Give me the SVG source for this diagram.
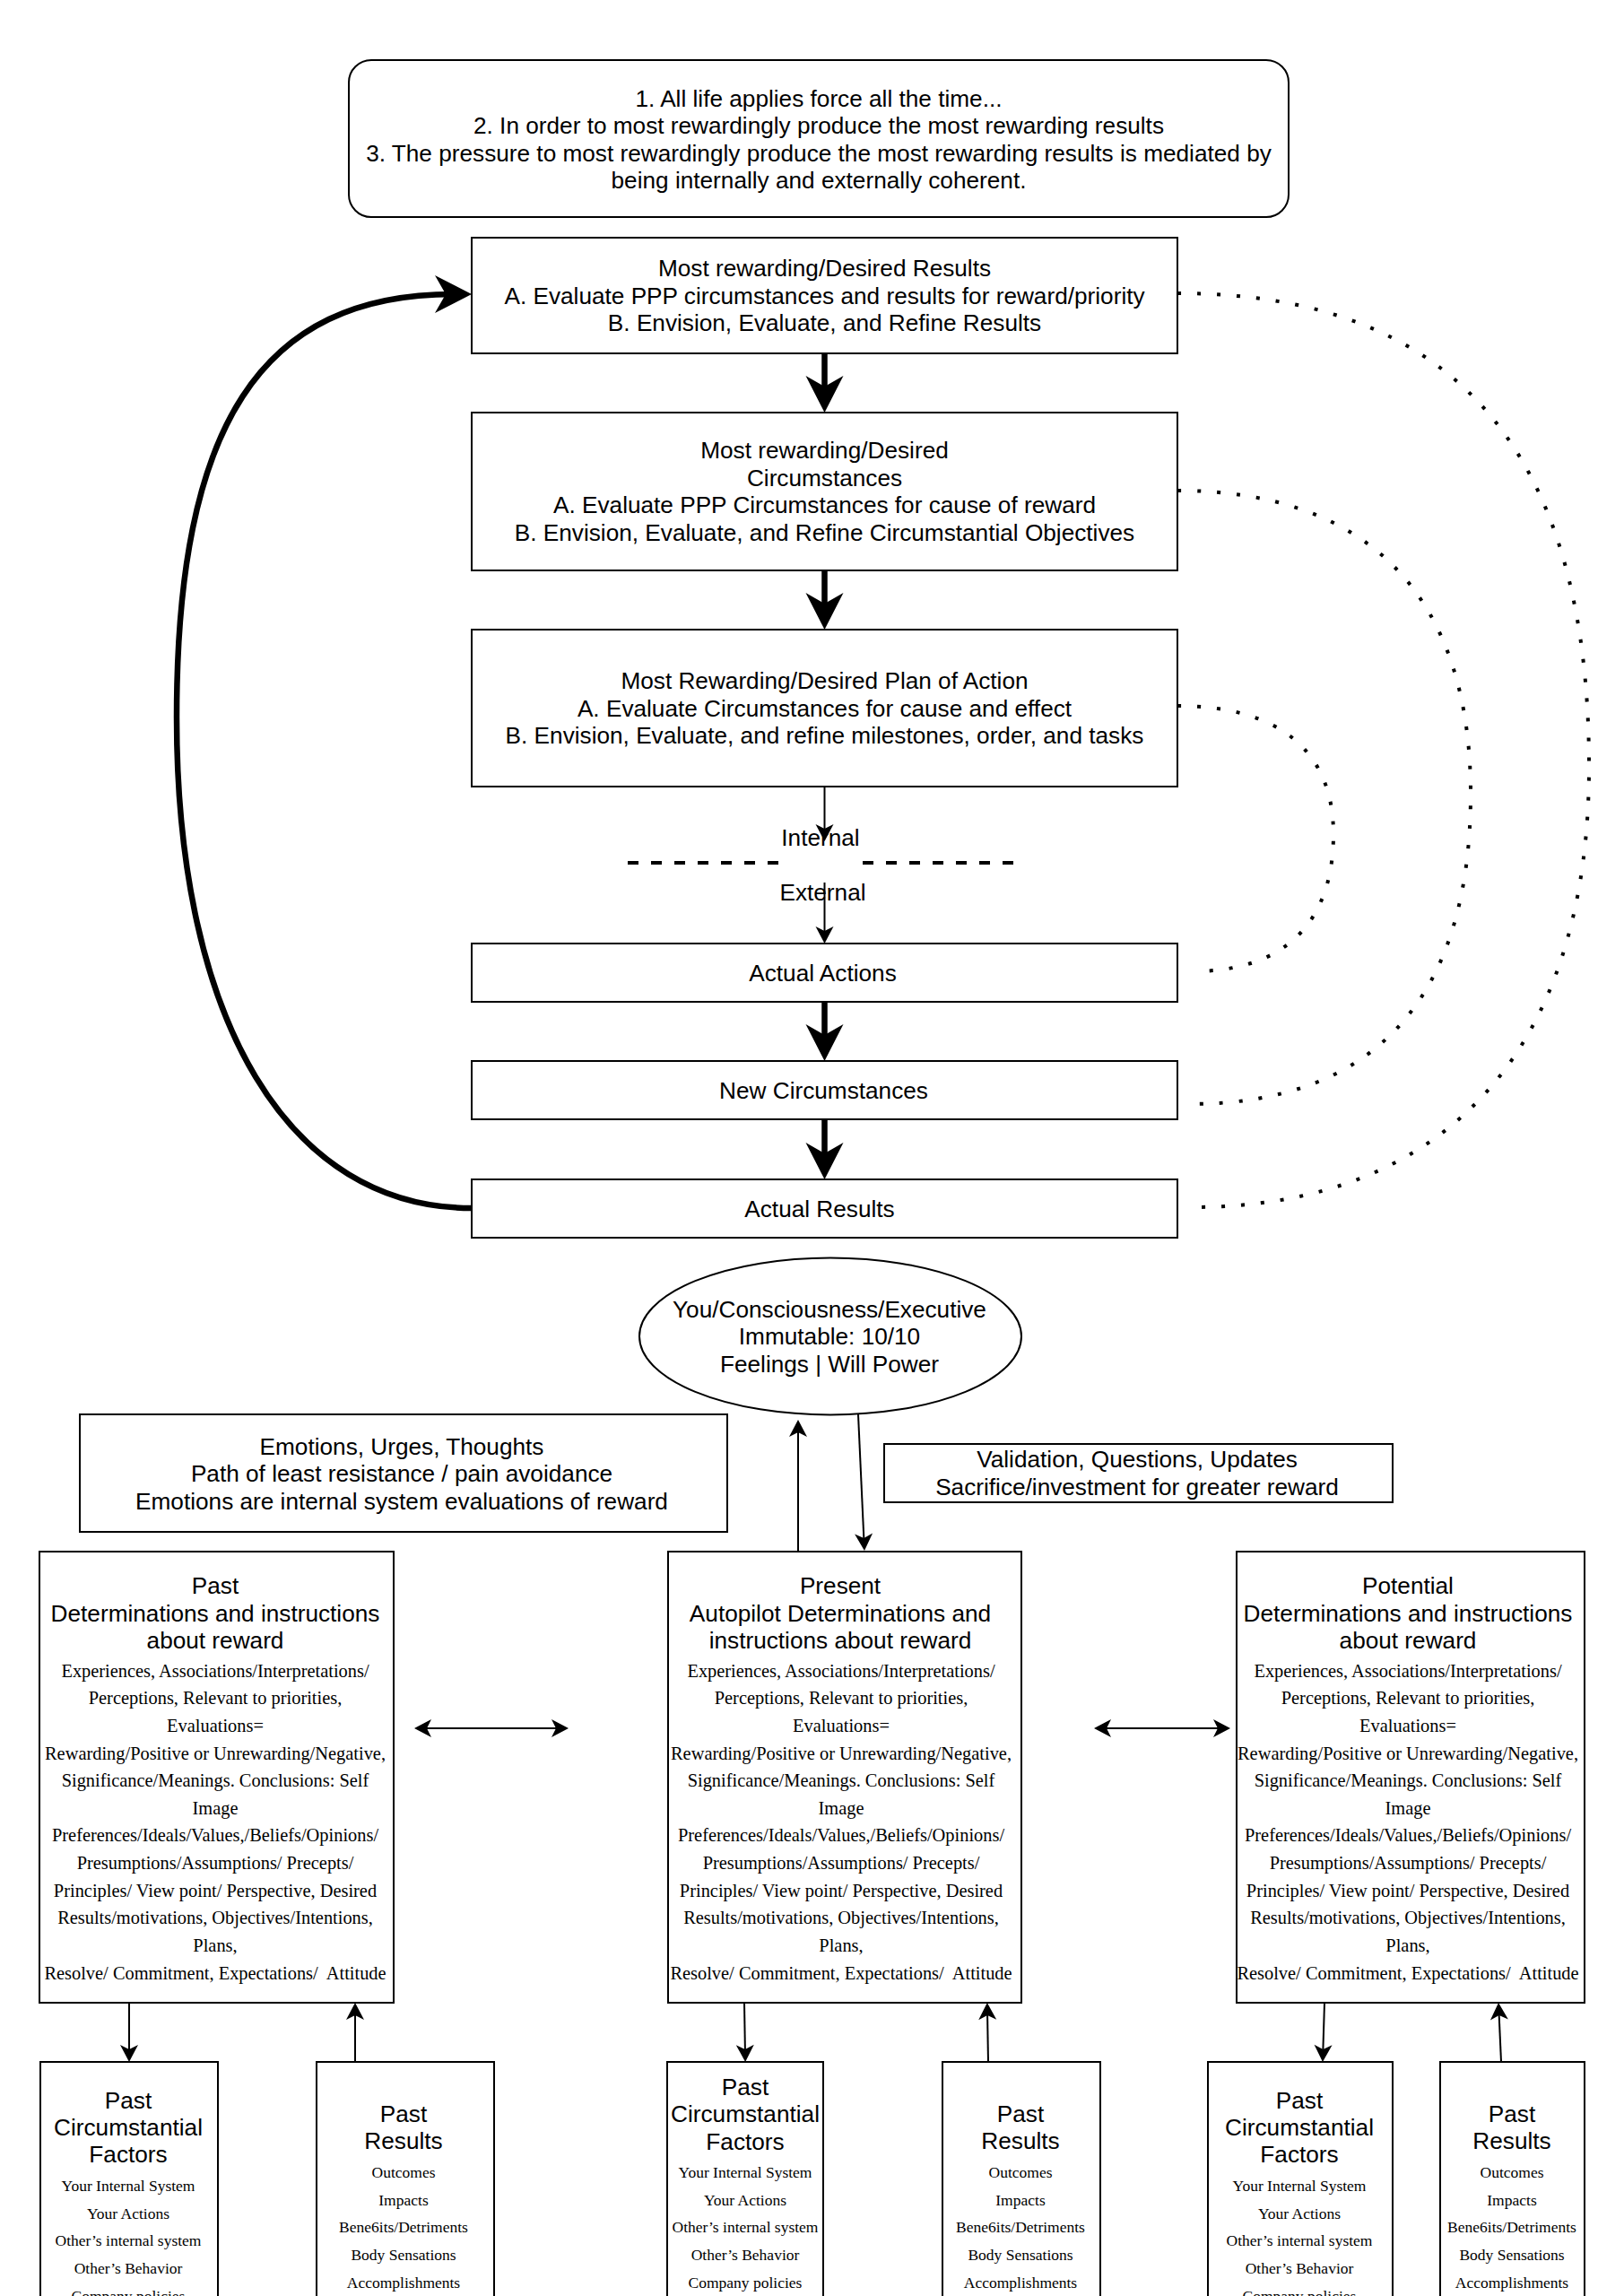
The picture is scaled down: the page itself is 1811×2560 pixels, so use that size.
<svg xmlns="http://www.w3.org/2000/svg" width="1811" height="2560" viewBox="0 0 1811 2560">
<style>
.box{fill:#fff;stroke:#000;stroke-width:2}
.t{font-family:"Liberation Sans",Arial,sans-serif;font-size:26.2px;text-anchor:middle;fill:#000}
.s{font-family:"Liberation Serif","Times New Roman",serif;font-size:20.4px;text-anchor:middle;fill:#000}
.s2{font-family:"Liberation Serif","Times New Roman",serif;font-size:17.5px;text-anchor:middle;fill:#000}
.thin{stroke:#000;stroke-width:2;fill:none}
.thick{stroke:#000;stroke-width:6.5;fill:none}
.dot{stroke:#000;stroke-width:4;fill:none;stroke-dasharray:4 18}
.dash{stroke:#000;stroke-width:4;fill:none;stroke-dasharray:12 14}
</style>
<defs>
<marker id="a" viewBox="-12 -11 21 22" markerWidth="21" markerHeight="22" refX="0" refY="0" orient="auto-start-reverse" markerUnits="userSpaceOnUse">
<path d="M8,0 L-11,-10 L-6,0 L-11,10 Z" fill="#000"/>
</marker>
<marker id="A" viewBox="-22 -22 43 44" markerWidth="43" markerHeight="44" refX="0" refY="0" orient="auto" markerUnits="userSpaceOnUse">
<path d="M20,0 L-21,-21 L-9,0 L-21,21 Z" fill="#000"/>
</marker>
</defs>
<rect width="1811" height="2560" fill="#fff"/>

<g id="connectors">
<path class="thick" d="M526,1347 C322,1347 197,1139 197,800 C197,475 290,328 506,328" marker-end="url(#A)"/>
<line class="thick" x1="919.5" y1="394" x2="919.5" y2="440" marker-end="url(#A)"/>
<line class="thick" x1="919.5" y1="636" x2="919.5" y2="682" marker-end="url(#A)"/>
<line class="thick" x1="919.5" y1="1117" x2="919.5" y2="1163" marker-end="url(#A)"/>
<line class="thick" x1="919.5" y1="1248" x2="919.5" y2="1295" marker-end="url(#A)"/>
<line class="thin" x1="919.5" y1="877" x2="919.5" y2="930" marker-end="url(#a)"/>
<line class="thin" x1="919.5" y1="984" x2="919.5" y2="1044" marker-end="url(#a)"/>
<line class="dash" x1="700" y1="962" x2="870" y2="962"/>
<line class="dash" x1="962" y1="962" x2="1133" y2="962"/>
<path class="dot" d="M1313,327 C1620,327 1772,501 1772,855 C1772,1169 1613,1346 1329,1346"/>
<path class="dot" d="M1313,547 C1526,547 1640,665 1640,885 C1640,1113 1533,1231 1326,1231"/>
<path class="dot" d="M1313,787 C1426,787 1487,837 1487,930 C1487,1029 1432,1083 1331,1083"/>
<line class="thin" x1="890" y1="1729" x2="890" y2="1591" marker-end="url(#a)"/>
<line class="thin" x1="957" y1="1577" x2="963.6" y2="1721" marker-end="url(#a)"/>
<line class="thin" x1="470" y1="1927" x2="626" y2="1927" marker-start="url(#a)" marker-end="url(#a)"/>
<line class="thin" x1="1228" y1="1927" x2="1364" y2="1927" marker-start="url(#a)" marker-end="url(#a)"/>
<line class="thin" x1="144" y1="2233" x2="144" y2="2291" marker-end="url(#a)"/>
<line class="thin" x1="396" y1="2317" x2="396" y2="2241" marker-end="url(#a)"/>
<line class="thin" x1="830" y1="2233" x2="831" y2="2291" marker-end="url(#a)"/>
<line class="thin" x1="1102" y1="2299" x2="1101" y2="2241" marker-end="url(#a)"/>
<line class="thin" x1="1477" y1="2233" x2="1475.2" y2="2291" marker-end="url(#a)"/>
<line class="thin" x1="1674" y1="2299" x2="1671.4" y2="2241" marker-end="url(#a)"/>
</g>

<g id="principles">
<rect class="box" x="389" y="67" width="1048" height="175" rx="25"/>
<text class="t" x="913" y="118.5">1. All life applies force all the time...</text>
<text class="t" x="913" y="149">2. In order to most rewardingly produce the most rewarding results</text>
<text class="t" x="913" y="179.5">3. The pressure to most rewardingly produce the most rewarding results is mediated by</text>
<text class="t" x="913" y="210">being internally and externally coherent.</text>
</g>

<g id="desired-results">
<rect class="box" x="526" y="265" width="787" height="129"/>
<text class="t" x="919.5" y="308">Most rewarding/Desired Results</text>
<text class="t" x="919.5" y="338.5">A. Evaluate PPP circumstances and results for reward/priority</text>
<text class="t" x="919.5" y="369">B. Envision, Evaluate, and Refine Results</text>
</g>

<g id="desired-circumstances">
<rect class="box" x="526" y="460" width="787" height="176"/>
<text class="t" x="919.5" y="511">Most rewarding/Desired</text>
<text class="t" x="919.5" y="541.5">Circumstances</text>
<text class="t" x="919.5" y="572">A. Evaluate PPP Circumstances for cause of reward</text>
<text class="t" x="919.5" y="602.5">B. Envision, Evaluate, and Refine Circumstantial Objectives</text>
</g>

<g id="plan-of-action">
<rect class="box" x="526" y="702" width="787" height="175"/>
<text class="t" x="919.5" y="768">Most Rewarding/Desired Plan of Action</text>
<text class="t" x="919.5" y="798.5">A. Evaluate Circumstances for cause and effect</text>
<text class="t" x="919.5" y="829">B. Envision, Evaluate, and refine milestones, order, and tasks</text>
</g>

<g id="internal-label">
<text class="t" x="915" y="943">Internal</text>
</g>
<g id="external-label">
<text class="t" x="917.5" y="1004">External</text>
</g>

<g id="actual-actions">
<rect class="box" x="526" y="1052" width="787" height="65"/>
<text class="t" x="917.5" y="1093.5">Actual Actions</text>
</g>

<g id="new-circumstances">
<rect class="box" x="526" y="1183" width="787" height="65"/>
<text class="t" x="918.5" y="1224.5">New Circumstances</text>
</g>

<g id="actual-results">
<rect class="box" x="526" y="1315" width="787" height="65"/>
<text class="t" x="914" y="1356.5">Actual Results</text>
</g>

<g id="you">
<ellipse class="box" cx="926" cy="1490" rx="213" ry="87.5"/>
<text class="t" x="925" y="1468.5">You/Consciousness/Executive</text>
<text class="t" x="925" y="1499">Immutable: 10/10</text>
<text class="t" x="925" y="1529.5">Feelings | Will Power</text>
</g>

<g id="emotions">
<rect class="box" x="89" y="1577" width="722" height="131"/>
<text class="t" x="448" y="1621.5">Emotions, Urges, Thoughts</text>
<text class="t" x="448" y="1652">Path of least resistance / pain avoidance</text>
<text class="t" x="448" y="1682.5">Emotions are internal system evaluations of reward</text>
</g>

<g id="validation">
<rect class="box" x="986" y="1610" width="567" height="65"/>
<text class="t" x="1268" y="1636">Validation, Questions, Updates</text>
<text class="t" x="1268" y="1667">Sacrifice/investment for greater reward</text>
</g>

<g id="past">
<rect class="box" x="44" y="1730" width="395" height="503"/>
<text class="t" x="240" y="1777">Past</text>
<text class="t" x="240" y="1807.5">Determinations and instructions</text>
<text class="t" x="240" y="1838">about reward</text>
<text class="s" x="240" y="1869.5">Experiences, Associations/Interpretations/</text>
<text class="s" x="240" y="1900.2">Perceptions, Relevant to priorities,</text>
<text class="s" x="240" y="1930.8">Evaluations=</text>
<text class="s" x="240" y="1961.5">Rewarding/Positive or Unrewarding/Negative,</text>
<text class="s" x="240" y="1992.1">Significance/Meanings. Conclusions: Self</text>
<text class="s" x="240" y="2022.8">Image</text>
<text class="s" x="240" y="2053.4">Preferences/Ideals/Values,/Beliefs/Opinions/</text>
<text class="s" x="240" y="2084.1">Presumptions/Assumptions/ Precepts/</text>
<text class="s" x="240" y="2114.7">Principles/ View point/ Perspective, Desired</text>
<text class="s" x="240" y="2145.4">Results/motivations, Objectives/Intentions,</text>
<text class="s" x="240" y="2176">Plans,</text>
<text class="s" x="240" y="2206.7">Resolve/ Commitment, Expectations/&#160; Attitude</text>
</g>

<g id="present">
<rect class="box" x="745" y="1730" width="394" height="503"/>
<text class="t" x="937" y="1777">Present</text>
<text class="t" x="937" y="1807.5">Autopilot Determinations and</text>
<text class="t" x="937" y="1838">instructions about reward</text>
<text class="s" x="938" y="1869.5">Experiences, Associations/Interpretations/</text>
<text class="s" x="938" y="1900.2">Perceptions, Relevant to priorities,</text>
<text class="s" x="938" y="1930.8">Evaluations=</text>
<text class="s" x="938" y="1961.5">Rewarding/Positive or Unrewarding/Negative,</text>
<text class="s" x="938" y="1992.1">Significance/Meanings. Conclusions: Self</text>
<text class="s" x="938" y="2022.8">Image</text>
<text class="s" x="938" y="2053.4">Preferences/Ideals/Values,/Beliefs/Opinions/</text>
<text class="s" x="938" y="2084.1">Presumptions/Assumptions/ Precepts/</text>
<text class="s" x="938" y="2114.7">Principles/ View point/ Perspective, Desired</text>
<text class="s" x="938" y="2145.4">Results/motivations, Objectives/Intentions,</text>
<text class="s" x="938" y="2176">Plans,</text>
<text class="s" x="938" y="2206.7">Resolve/ Commitment, Expectations/&#160; Attitude</text>
</g>

<g id="potential">
<rect class="box" x="1379" y="1730" width="388" height="503"/>
<text class="t" x="1570" y="1777">Potential</text>
<text class="t" x="1570" y="1807.5">Determinations and instructions</text>
<text class="t" x="1570" y="1838">about reward</text>
<text class="s" x="1570" y="1869.5">Experiences, Associations/Interpretations/</text>
<text class="s" x="1570" y="1900.2">Perceptions, Relevant to priorities,</text>
<text class="s" x="1570" y="1930.8">Evaluations=</text>
<text class="s" x="1570" y="1961.5">Rewarding/Positive or Unrewarding/Negative,</text>
<text class="s" x="1570" y="1992.1">Significance/Meanings. Conclusions: Self</text>
<text class="s" x="1570" y="2022.8">Image</text>
<text class="s" x="1570" y="2053.4">Preferences/Ideals/Values,/Beliefs/Opinions/</text>
<text class="s" x="1570" y="2084.1">Presumptions/Assumptions/ Precepts/</text>
<text class="s" x="1570" y="2114.7">Principles/ View point/ Perspective, Desired</text>
<text class="s" x="1570" y="2145.4">Results/motivations, Objectives/Intentions,</text>
<text class="s" x="1570" y="2176">Plans,</text>
<text class="s" x="1570" y="2206.7">Resolve/ Commitment, Expectations/&#160; Attitude</text>
</g>

<g id="past-circumstantial-left">
<rect class="box" x="45" y="2299" width="198" height="300"/>
<text class="t" x="143" y="2351">Past</text>
<text class="t" x="143" y="2381">Circumstantial</text>
<text class="t" x="143" y="2411">Factors</text>
<text class="s2" x="143" y="2443">Your Internal System</text>
<text class="s2" x="143" y="2473.7">Your Actions</text>
<text class="s2" x="143" y="2504.4">Other’s internal system</text>
<text class="s2" x="143" y="2535.1">Other’s Behavior</text>
<text class="s2" x="143" y="2565.8">Company policies</text>
</g>

<g id="past-results-left">
<rect class="box" x="353" y="2299" width="198" height="300"/>
<text class="t" x="450" y="2366">Past</text>
<text class="t" x="450" y="2396">Results</text>
<text class="s2" x="450" y="2428">Outcomes</text>
<text class="s2" x="450" y="2458.7">Impacts</text>
<text class="s2" x="450" y="2489.4">Bene6its/Detriments</text>
<text class="s2" x="450" y="2520.1">Body Sensations</text>
<text class="s2" x="450" y="2550.8">Accomplishments</text>
</g>

<g id="past-circumstantial-middle">
<rect class="box" x="744" y="2299" width="174" height="300"/>
<text class="t" x="831" y="2336">Past</text>
<text class="t" x="831" y="2366">Circumstantial</text>
<text class="t" x="831" y="2397">Factors</text>
<text class="s2" x="831" y="2428">Your Internal System</text>
<text class="s2" x="831" y="2458.7">Your Actions</text>
<text class="s2" x="831" y="2489.4">Other’s internal system</text>
<text class="s2" x="831" y="2520.1">Other’s Behavior</text>
<text class="s2" x="831" y="2550.8">Company policies</text>
</g>

<g id="past-results-middle">
<rect class="box" x="1051" y="2299" width="176" height="300"/>
<text class="t" x="1138" y="2366">Past</text>
<text class="t" x="1138" y="2396">Results</text>
<text class="s2" x="1138" y="2428">Outcomes</text>
<text class="s2" x="1138" y="2458.7">Impacts</text>
<text class="s2" x="1138" y="2489.4">Bene6its/Detriments</text>
<text class="s2" x="1138" y="2520.1">Body Sensations</text>
<text class="s2" x="1138" y="2550.8">Accomplishments</text>
</g>

<g id="past-circumstantial-right">
<rect class="box" x="1347" y="2299" width="206" height="300"/>
<text class="t" x="1449" y="2351">Past</text>
<text class="t" x="1449" y="2381">Circumstantial</text>
<text class="t" x="1449" y="2411">Factors</text>
<text class="s2" x="1449" y="2443">Your Internal System</text>
<text class="s2" x="1449" y="2473.7">Your Actions</text>
<text class="s2" x="1449" y="2504.4">Other’s internal system</text>
<text class="s2" x="1449" y="2535.1">Other’s Behavior</text>
<text class="s2" x="1449" y="2565.8">Company policies</text>
</g>

<g id="past-results-right">
<rect class="box" x="1606" y="2299" width="161" height="300"/>
<text class="t" x="1686" y="2366">Past</text>
<text class="t" x="1686" y="2396">Results</text>
<text class="s2" x="1686" y="2428">Outcomes</text>
<text class="s2" x="1686" y="2458.7">Impacts</text>
<text class="s2" x="1686" y="2489.4">Bene6its/Detriments</text>
<text class="s2" x="1686" y="2520.1">Body Sensations</text>
<text class="s2" x="1686" y="2550.8">Accomplishments</text>
</g>
</svg>
